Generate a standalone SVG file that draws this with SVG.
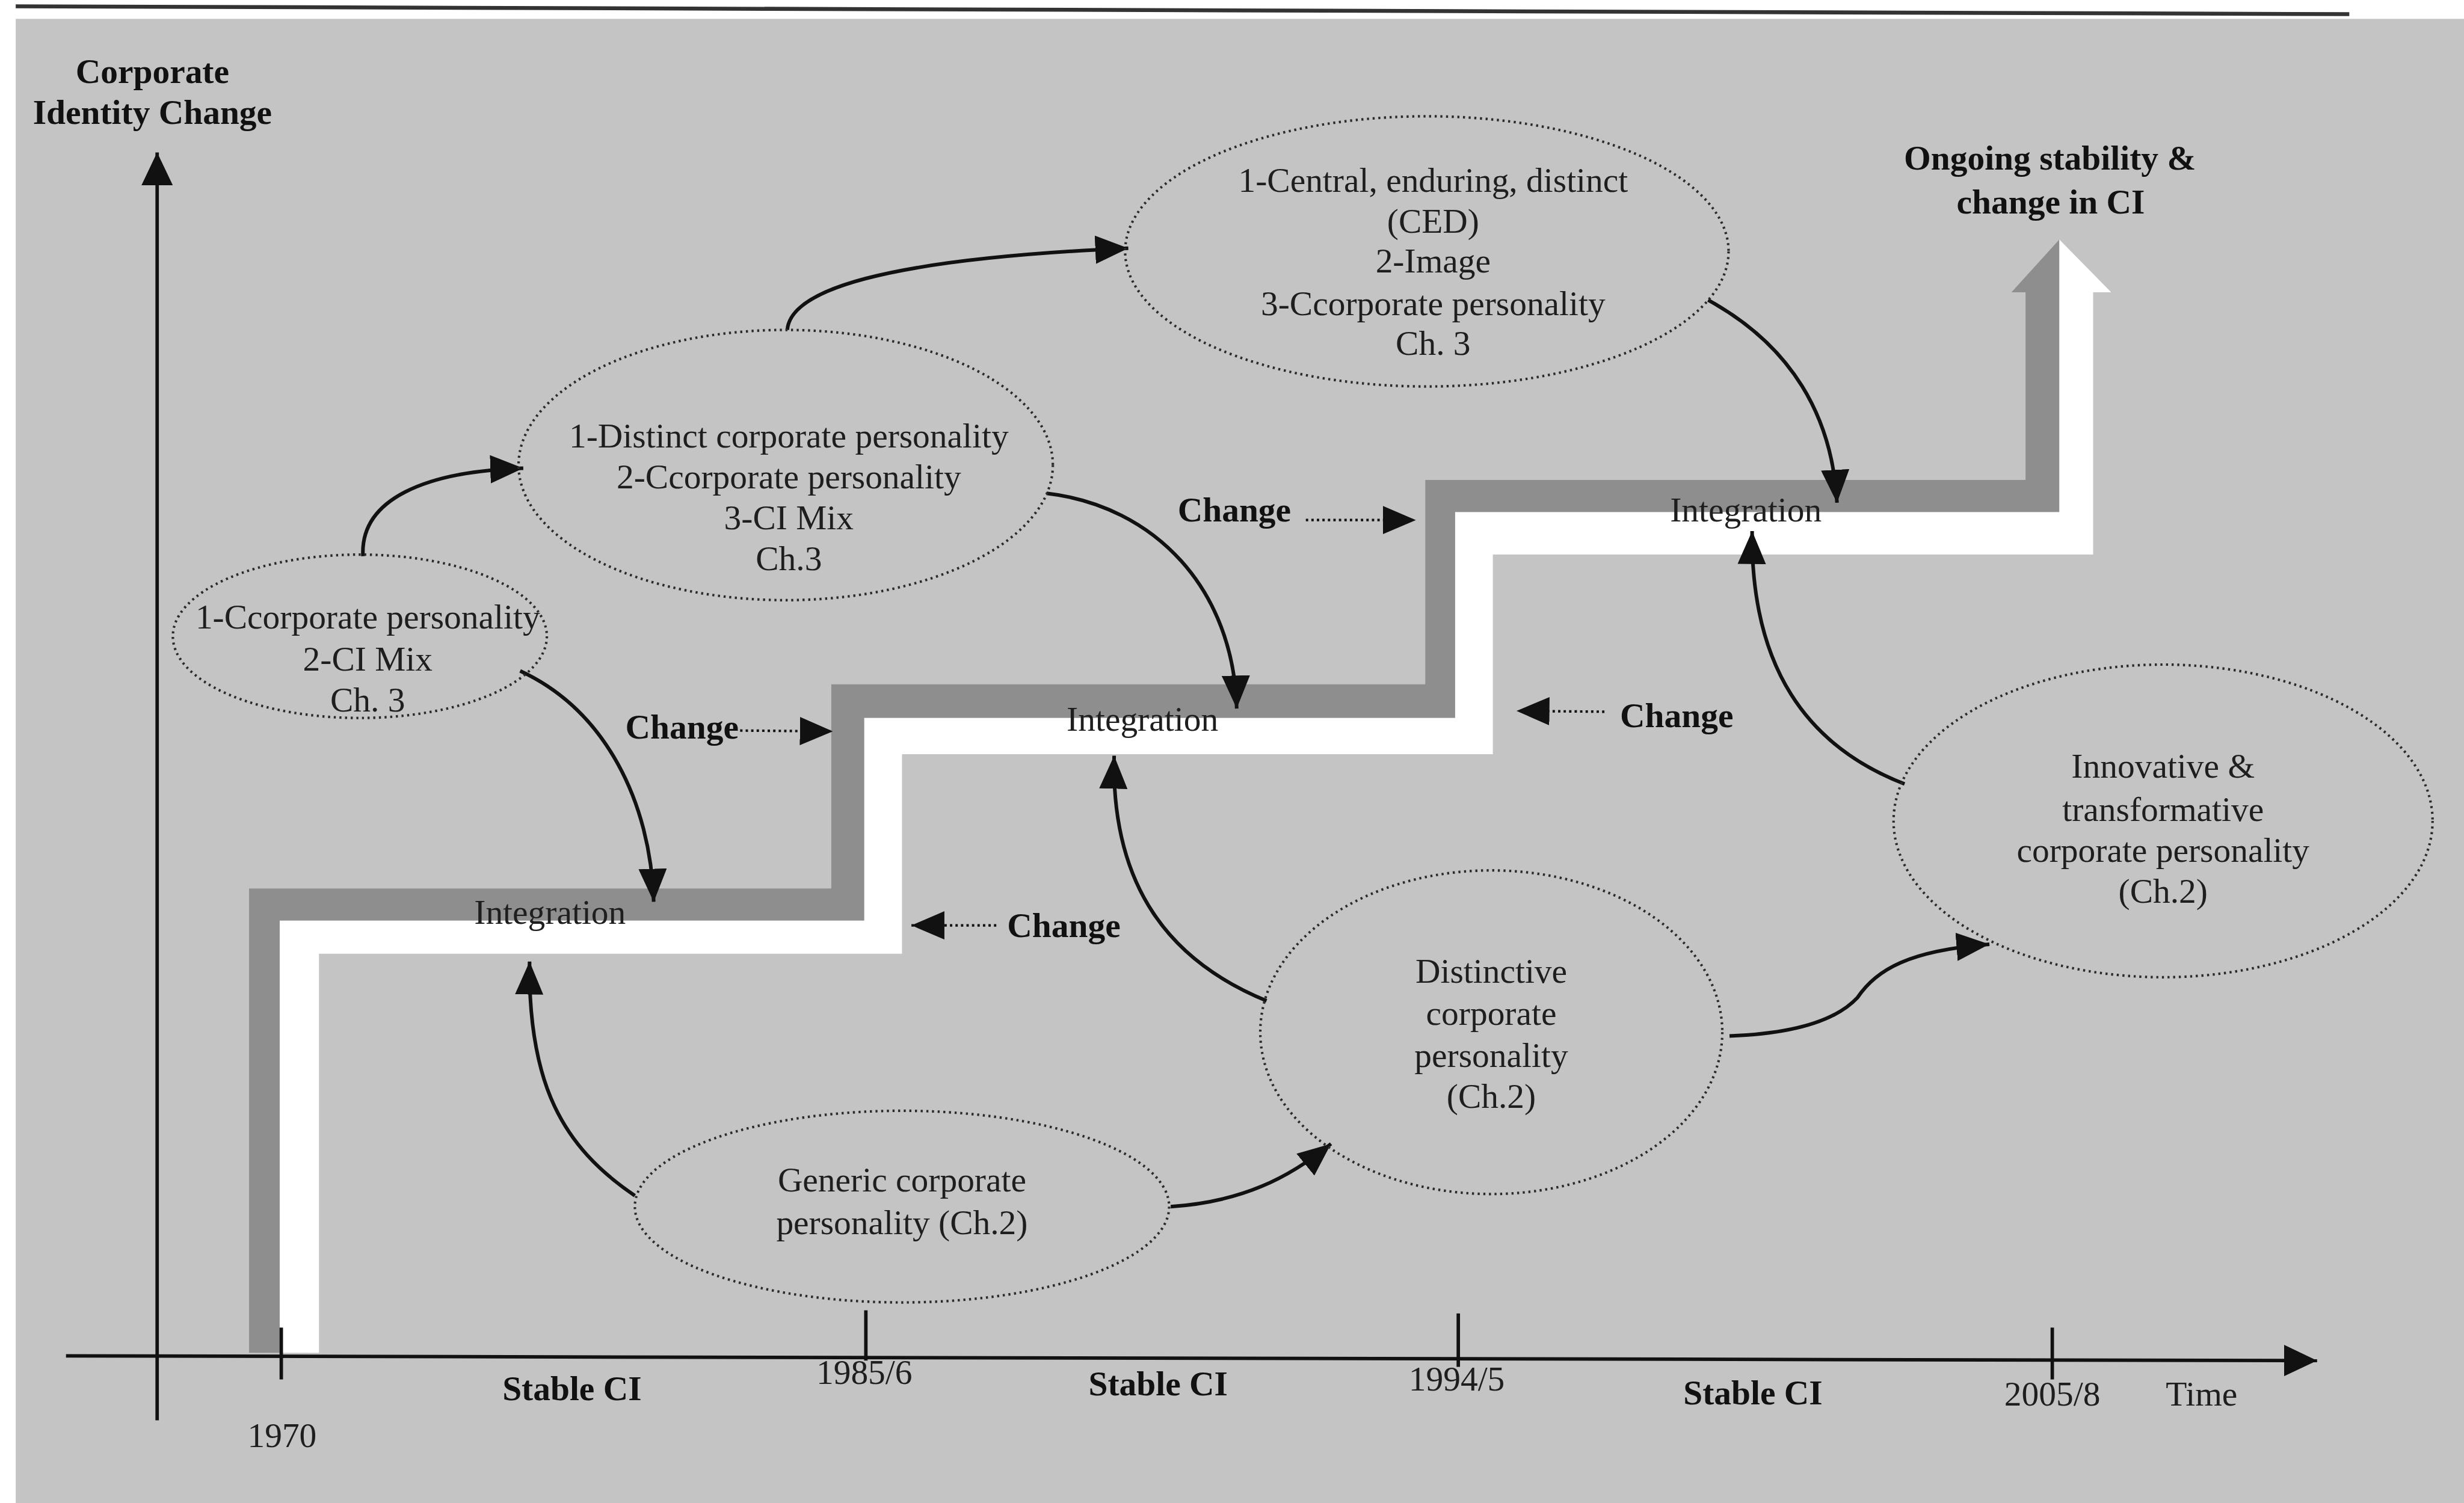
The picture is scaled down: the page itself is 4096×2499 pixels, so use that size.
<svg xmlns="http://www.w3.org/2000/svg" width="4096" height="2499" viewBox="0 0 4096 2499">
<defs>
<style>
.t{font-family:"Liberation Serif","Times New Roman",serif;font-size:22px;fill:#1e1e1e;text-anchor:middle}
.b{font-weight:bold;fill:#111}
.ell{fill:none;stroke:#2a2a2a;stroke-width:1.6;stroke-dasharray:1.3 2.3}
.conn{fill:none;stroke:#111;stroke-width:2.3}
.dot{fill:none;stroke:#111;stroke-width:1.6;stroke-dasharray:1.5 2}
.axis{fill:none;stroke:#111;stroke-width:2.2}
</style>
<marker id="ah" viewBox="0 0 21 18" refX="21" refY="9" markerWidth="21" markerHeight="18" markerUnits="userSpaceOnUse" orient="auto"><path d="M0,0 L21,9 L0,18 Z" fill="#111"/></marker>
<marker id="ahL" viewBox="0 0 21 20" refX="21" refY="10" markerWidth="21" markerHeight="20" markerUnits="userSpaceOnUse" orient="auto"><path d="M0,0 L21,10 L0,20 Z" fill="#111"/></marker>
</defs>
<rect x="0" y="0" width="4096" height="2499" fill="#ffffff"/>
<g transform="scale(2.61224)">
<rect id="background" x="10" y="12" width="1560" height="948" fill="#c4c4c4"/>
<path id="topline" d="M10,4 L1495,9" stroke="#333" stroke-width="2.5" fill="none"/>

<g id="staircase">
<polygon fill="#8e8e8e" points="158.5,861 158.5,565.5 529,565.5 529,435.5 907,435.5 907,305.5 1289,305.5 1289,186 1280,186 1310.5,152.5 1310.5,326 926,326 926,457 550,457 550,586 178,586 178,861"/>
<polygon fill="#ffffff" points="178,861 178,586 550,586 550,457 926,457 926,326 1310.5,326 1310.5,152.5 1343.5,186 1332,186 1332,353 950,353 950,480 574,480 574,607 203,607 203,861"/>
</g>

<g id="axes">
<path class="axis" d="M100,904 L100,97" marker-end="url(#ahL)"/>
<path class="axis" d="M42,863 L1474.5,866" marker-end="url(#ahL)"/>
<path class="axis" d="M179,845 L179,878"/>
<path class="axis" d="M551,834 L551,866"/>
<path class="axis" d="M928,836 L928,870"/>
<path class="axis" d="M1306,845 L1306,878"/>
</g>

<g id="connectors">
<path class="conn" d="M231,354 C229,318 270,300 333,298" marker-end="url(#ah)"/>
<path class="conn" d="M501,210 C503,185 560,165 718,158" marker-end="url(#ah)"/>
<path class="conn" d="M1087,191 C1140,220 1166,265 1169,320" marker-end="url(#ah)"/>
<path class="conn" d="M666,314 C735,322 785,375 787,451" marker-end="url(#ah)"/>
<path class="conn" d="M331,427 C385,452 414,510 416,574" marker-end="url(#ah)"/>
<path class="conn" d="M404,761 C358,730 336,690 337,612" marker-end="url(#ah)"/>
<path class="conn" d="M745,768 C790,765 820,750 847,728" marker-end="url(#ah)"/>
<path class="conn" d="M806,637 C745,612 707,565 709,481" marker-end="url(#ah)"/>
<path class="conn" d="M1212,499 C1150,475 1114,425 1115,338" marker-end="url(#ah)"/>
<path class="conn" d="M1100.6,659.4 C1140,658 1168,650 1182,635 C1194,617 1215,605 1266,601" marker-end="url(#ah)"/>
<path class="dot" d="M471,465 L530,465.5" marker-end="url(#ah)"/>
<path class="dot" d="M831,331 L901,331" marker-end="url(#ah)"/>
<path class="dot" d="M1021,453 L965,452.5" marker-end="url(#ah)"/>
<path class="dot" d="M634,589 L580,589" marker-end="url(#ah)"/>
</g>

<g id="node-e1">
<ellipse class="ell" cx="229" cy="405" rx="119" ry="52"/>
<text class="t" x="234" y="400">1-Ccorporate personality</text>
<text class="t" x="234" y="427">2-CI Mix</text>
<text class="t" x="234" y="453">Ch. 3</text>
</g>
<g id="node-e2">
<ellipse class="ell" cx="500" cy="296" rx="170" ry="86"/>
<text class="t" x="502" y="285">1-Distinct corporate personality</text>
<text class="t" x="502" y="311">2-Ccorporate personality</text>
<text class="t" x="502" y="337">3-CI Mix</text>
<text class="t" x="502" y="363">Ch.3</text>
</g>
<g id="node-e3">
<ellipse class="ell" cx="908" cy="160" rx="192" ry="86"/>
<text class="t" x="912" y="122">1-Central, enduring, distinct</text>
<text class="t" x="912" y="148">(CED)</text>
<text class="t" x="912" y="173.5">2-Image</text>
<text class="t" x="912" y="200.5">3-Ccorporate personality</text>
<text class="t" x="912" y="226">Ch. 3</text>
</g>
<g id="node-generic">
<ellipse class="ell" cx="574" cy="768" rx="170" ry="61"/>
<text class="t" x="574" y="758.5">Generic corporate</text>
<text class="t" x="574" y="785.5">personality (Ch.2)</text>
</g>
<g id="node-distinctive">
<ellipse class="ell" cx="949" cy="657" rx="147" ry="103"/>
<text class="t" x="949" y="625.5">Distinctive</text>
<text class="t" x="949" y="652.5">corporate</text>
<text class="t" x="949" y="679">personality</text>
<text class="t" x="949" y="705">(Ch.2)</text>
</g>
<g id="node-innovative">
<ellipse class="ell" cx="1376.5" cy="522.5" rx="171.5" ry="99.5"/>
<text class="t" x="1376.5" y="495">Innovative &amp;</text>
<text class="t" x="1376.5" y="522.5">transformative</text>
<text class="t" x="1376.5" y="548.5">corporate personality</text>
<text class="t" x="1376.5" y="574.5">(Ch.2)</text>
</g>

<g id="labels">
<text class="t b" x="97" y="53">Corporate</text>
<text class="t b" x="97" y="79">Identity Change</text>
<text class="t b" x="1304.5" y="108">Ongoing stability &amp;</text>
<text class="t b" x="1305" y="136">change in CI</text>
<text class="t b" x="434" y="470">Change</text>
<text class="t b" x="785.5" y="332">Change</text>
<text class="t b" x="1067" y="463">Change</text>
<text class="t b" x="677" y="596.5">Change</text>
<text class="t" x="350" y="588">Integration</text>
<text class="t" x="727" y="465">Integration</text>
<text class="t" x="1111" y="332">Integration</text>
<text class="t b" x="364" y="891">Stable CI</text>
<text class="t b" x="737" y="888">Stable CI</text>
<text class="t b" x="1115.5" y="894">Stable CI</text>
<text class="t" x="179.5" y="921">1970</text>
<text class="t" x="550" y="881">1985/6</text>
<text class="t" x="927" y="885">1994/5</text>
<text class="t" x="1306" y="894.5">2005/8</text>
<text class="t" x="1401" y="894.5">Time</text>
</g>
</g>
</svg>
